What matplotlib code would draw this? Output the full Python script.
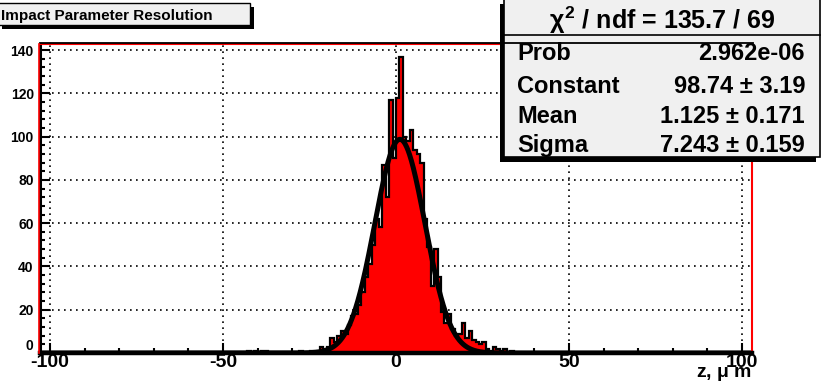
import numpy as np
import matplotlib.pyplot as plt
from matplotlib.patches import Rectangle
from matplotlib.lines import Line2D
from matplotlib.ticker import MultipleLocator

plt.rcParams['font.family'] = ['Liberation Sans', 'DejaVu Sans']
plt.rcParams['font.weight'] = 'bold'
plt.rcParams['axes.unicode_minus'] = False
plt.rcParams['mathtext.fontset'] = 'custom'
plt.rcParams['mathtext.rm'] = 'Liberation Sans'
plt.rcParams['mathtext.it'] = 'Liberation Sans'
plt.rcParams['mathtext.bf'] = 'Liberation Sans:bold'

W, H = 824, 383

# histogram contents, 1 um bins starting at -45
first_edge = -45
counts = [
    0, 0, 1, 0, 1, 0, 1, 1, 0, 0,          # -45 .. -36
    0, 0, 0, 0, 0, 0, 0, 1, 0, 0,          # -35 .. -26
    1, 1, 1, 3, 2, 3, 7, 5, 8, 10,         # -25 .. -16
    9, 13, 17, 18, 22, 28, 35, 41, 50, 62, # -15 .. -6
    58, 87, 72, 117, 90, 118, 137, 100, 98, 103,  # -5 .. 4
    94, 92, 88, 62, 49, 31, 48, 35, 19, 14,       # 5 .. 14
    18, 11, 8, 9, 14, 7, 10, 6, 5, 4,             # 15 .. 24
    5, 2, 1, 3, 2, 1, 2, 0, 1, 0,                 # 25 .. 34
]
edges = np.arange(first_edge, first_edge + len(counts) + 1)

# gaussian fit result
fit_const, fit_mean, fit_sigma = 98.74, 1.125, 7.243
stat_names = ['Prob', 'Constant', 'Mean', 'Sigma']
stat_values = ['2.962e-06', '98.74 \u00b1 3.19', '1.125 \u00b1 0.171', '7.243 \u00b1 0.159']
chi2_text = r'$\chi^{\mathbf{2}}$ / ndf = 135.7 / 69'

x_lo, x_hi = -102.9, 102.9
y_hi = 142.8


def fx(px):
    return px / W


def fy(py):
    return 1 - py / H


fig = plt.figure(figsize=(W / 100, H / 100), dpi=100)
ax = fig.add_axes([fx(40), fy(353), (752 - 40) / W, (353 - 44) / H])

# dotted grid under the histogram
dots = (0, (1, 2.6))
for yv in range(20, 141, 20):
    ax.axhline(yv, color='black', lw=1.2, ls=dots, zorder=1)
for xv in [-100, -50, 0, 50, 100]:
    ax.axvline(xv, color='black', lw=1.2, ls=dots, zorder=1)

ax.stairs(counts, edges, fill=True, color='#ff0000', zorder=2)
ax.stairs(counts, edges, color='black', lw=1.6, zorder=3)

xs = np.linspace(x_lo, x_hi, 1500)
ys = fit_const * np.exp(-0.5 * ((xs - fit_mean) / fit_sigma) ** 2)
ax.plot(xs, ys, color='black', lw=3.6, zorder=4)

ax.set_xlim(x_lo, x_hi)
ax.set_ylim(0, y_hi)

ax.spines['top'].set_color('#ff0000')
ax.spines['right'].set_color('#ff0000')
ax.spines['top'].set_linewidth(1.5)
ax.spines['right'].set_linewidth(1.5)
ax.spines['left'].set_color('black')
ax.spines['left'].set_linewidth(2.2)
ax.spines['bottom'].set_color('black')
ax.spines['bottom'].set_linewidth(3.2)
for s in ax.spines.values():
    s.set_zorder(5)

ax.xaxis.set_major_locator(MultipleLocator(50))
ax.xaxis.set_minor_locator(MultipleLocator(10))
ax.yaxis.set_major_locator(MultipleLocator(20))
ax.yaxis.set_minor_locator(MultipleLocator(4))
ax.tick_params(which='both', direction='in', color='black', top=False, right=False, zorder=6)
ax.tick_params(which='major', length=7, width=1.5)
ax.tick_params(which='minor', length=3.6, width=1.5)
ax.tick_params(axis='y', labelsize=10, pad=4.5)
ax.tick_params(axis='x', labelsize=14, pad=1.0)
# lift the zero label a little so it clears the x labels
for lab in ax.get_yticklabels():
    if lab.get_text() == '0':
        lab.set_verticalalignment('bottom')

# frame edges outside the axes
fig.add_artist(Line2D([fx(40), fx(753)], [fy(42.5), fy(42.5)], color='black', lw=1.3))
fig.add_artist(Line2D([fx(38.8), fx(38.8)], [fy(44), fy(353)], color='#ff0000', lw=1.2))

fig.text(fx(752), fy(377), r'z, $\mu$ m', ha='right', va='baseline', fontsize=14)

# title box
fig.add_artist(Rectangle((fx(2), fy(29)), 252 / W, 22 / H, transform=fig.transFigure,
                         facecolor='black', edgecolor='none'))
fig.add_artist(Rectangle((fx(-2), fy(25)), 252 / W, 22 / H, transform=fig.transFigure,
                         facecolor='#f0f0f0', edgecolor='black', lw=1.0))
fig.text(fx(1), fy(20), 'Impact Parameter Resolution', ha='left', va='baseline', fontsize=11)

# fit statistics box
fig.add_artist(Rectangle((fx(500), fy(162)), 316 / W, 158 / H, transform=fig.transFigure,
                         facecolor='black', edgecolor='none'))
fig.add_artist(Rectangle((fx(504), fy(157)), 316 / W, 158 / H, transform=fig.transFigure,
                         facecolor='#f0f0f0', edgecolor='black', lw=1.2))
fig.add_artist(Line2D([fx(504), fx(820)], [fy(35), fy(35)], color='black', lw=1.2))
fig.text(fx(662), fy(29), chi2_text, ha='center', va='baseline', fontsize=18)
for name, val, base in zip(stat_names, stat_values, [60, 93, 123, 152]):
    fig.text(fx(517), fy(base), name, ha='left', va='baseline', fontsize=17)
    fig.text(fx(805), fy(base), val, ha='right', va='baseline', fontsize=17)

fig.savefig('out.png', dpi=100)
